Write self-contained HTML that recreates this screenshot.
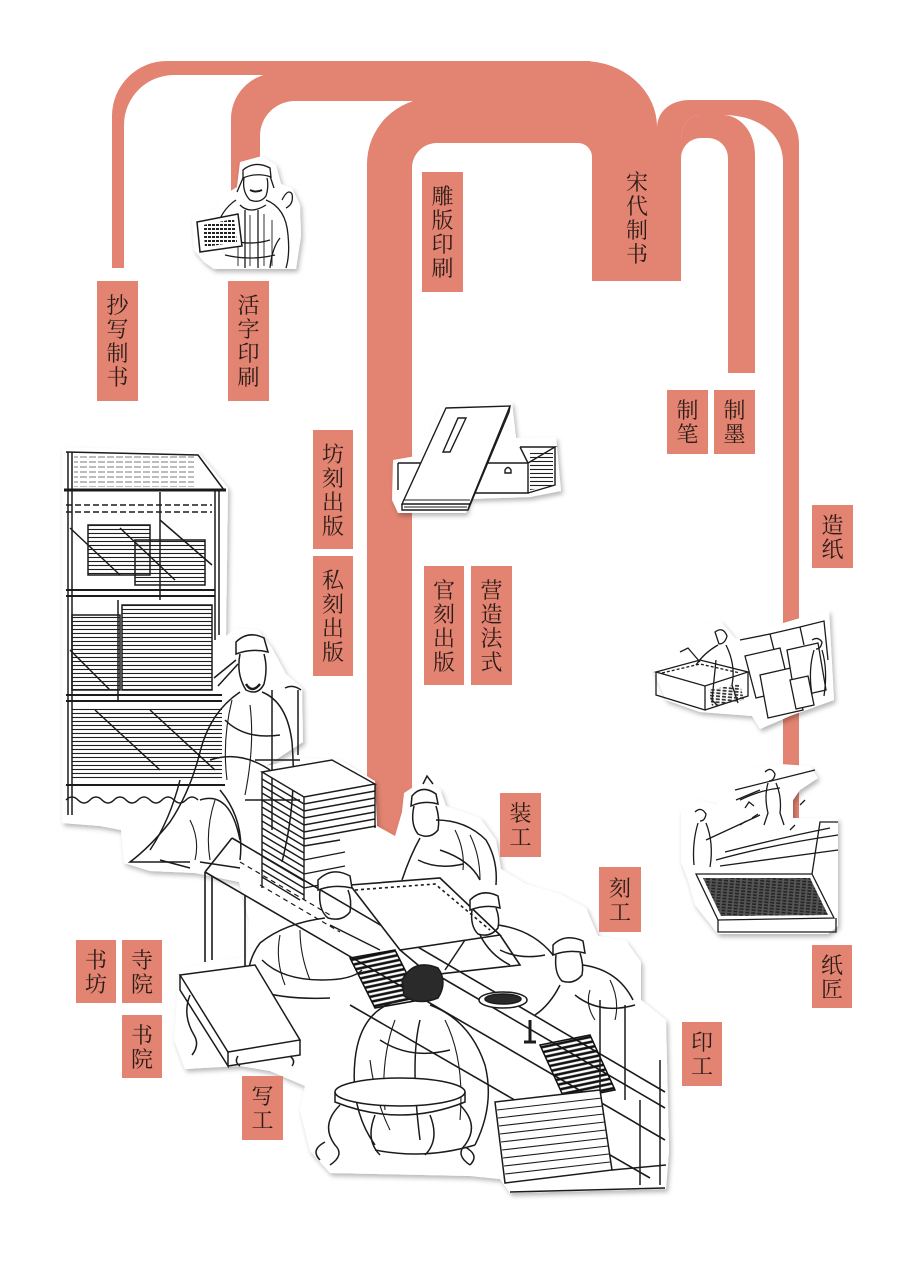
<!DOCTYPE html>
<html><head><meta charset="utf-8">
<style>
html,body{margin:0;padding:0;background:#fff;}
body{width:905px;height:1280px;position:relative;overflow:hidden;}
svg{position:absolute;left:0;top:0;}
.l{position:absolute;background:#E38371;color:#2a1c18;font-family:"Noto Serif CJK SC","Noto Serif CJK JP","Liberation Serif",serif;font-size:22px;line-height:24px;display:flex;align-items:center;justify-content:center;text-align:center;}
.l span{display:block;}
.t{position:absolute;color:#2a1c18;font-family:"Noto Serif CJK SC","Noto Serif CJK JP","Liberation Serif",serif;font-size:22px;line-height:24px;text-align:center;}
</style></head><body>
<svg width="905" height="1280" viewBox="0 0 905 1280">
<defs>
<filter id="sh" x="-10%" y="-10%" width="125%" height="125%"><feDropShadow dx="2" dy="3" stdDeviation="2.5" flood-color="#000" flood-opacity="0.28"/></filter>
<pattern id="hl" width="8" height="4" patternUnits="userSpaceOnUse"><path d="M0,1.5 H8" stroke="#1e1e1e" stroke-width="1.1"/></pattern>
<pattern id="hl2" width="9" height="5" patternUnits="userSpaceOnUse"><path d="M0,2 H9" stroke="#1e1e1e" stroke-width="1.1" stroke-dasharray="6 2"/></pattern>
<pattern id="st" width="6" height="5" patternUnits="userSpaceOnUse" patternTransform="rotate(-12)"><path d="M0,2 H6" stroke="#111" stroke-width="2.6"/></pattern>
<pattern id="dk" width="6" height="3" patternUnits="userSpaceOnUse" patternTransform="rotate(5)"><path d="M0,1 H4" stroke="#222" stroke-width="1.6"/></pattern>
<pattern id="tx" width="4" height="4" patternUnits="userSpaceOnUse"><rect x="0" y="0" width="3" height="2" fill="#222"/></pattern>
</defs>

<!-- bands -->
<g fill="#E38371">
<path d="M112,268 V116 A55,55 0 0 1 167,61 H590 V75 H174 A50,50 0 0 0 124,125 V268 Z"/>
<path d="M231,210 V120 A46,46 0 0 1 277,73 H590 V101 H295 A35,35 0 0 0 260,136 V210 Z"/>
<path d="M367,845 V165 A66,66 0 0 1 433,98 H590 V143 H437 A25,25 0 0 0 412,168 V845 Z"/>
<path d="M560,61 H583 A74,66 0 0 1 657,127 V281 H592 V157 A14,14 0 0 0 578,143 H560 Z"/>
<path d="M657,281 V128 C657,112 670,100 690,100 H755 A44,44 0 0 1 799,144 V820 H783 V162 C783,135 760,115 723,115 H700 C690,115 681,125 681,140 V281 Z"/>
<path d="M681,281 V158 A20,20 0 0 1 701,138 H708 A20,20 0 0 1 728,158 V373 H755 V155 C755,132 740,115 723,115 H700 C690,115 681,125 681,140 Z"/>
</g>

<!-- portrait -->
<path filter="url(#sh)" fill="#fff" d="M240,162 L262,156 L276,165 L281,184 L292,188 L300,205 L301,236 L296,269 L214,269 L204,262 L194,250 L192,217 L214,211 L224,195 L237,187 Z"/>
<g stroke="#1b1b1b" fill="none" stroke-width="1.3">
<path d="M243,170 q12,-10 27,-2 l1,9 q-14,-5 -28,1 z"/>
<path d="M244,178 q-2,14 6,22 q10,4 16,-4 q3,-10 1,-18"/>
<path d="M250,190 q6,3 12,0" stroke-width="2"/>
<path d="M243,178 l-6,14 M270,176 l4,12"/>
<path d="M236,200 q-15,10 -20,30 M266,200 q20,8 22,35 q2,20 -2,33"/>
<path d="M240,205 q10,10 26,0 M245,210 V268 M258,210 V268 M230,240 q20,6 40,0 M225,255 q25,6 50,0"/>
<path d="M250,215 V266 M264,214 V266 M272,220 V266 M238,222 V266" stroke-width="0.9"/>
<path d="M282,200 q6,-12 10,-6 q2,10 -6,14"/>
<path d="M270,268 q2,-20 10,-30"/>
</g>
<path d="M197,222 L238,214 L242,246 L200,252 Z" fill="#fff" stroke="#1b1b1b" stroke-width="1.5"/>
<path d="M203,225 L234,219 L237,242 L205,247 Z" fill="url(#tx)"/>

<!-- book image -->
<path filter="url(#sh)" fill="#fff" d="M393,460 L422,455 L440,407 L512,402 L516,438 L556,437 L561,491 L530,497 L470,499 L466,513 L398,513 L392,500 Z"/>
<g stroke="#1b1b1b" fill="none" stroke-width="1.4">
<path d="M398,463 H528 V493 H466 M398,463 V490"/>
<path d="M520,447 L528,463 M520,447 H555 L528,463 M555,447 V485 L528,493"/>
<path d="M446,408 L510,406 L470,504 L402,504 Z" fill="#fff"/>
<path d="M402,504 V510 H468 L470,504 M468,510 L509,412 L510,406"/>
<path d="M458,418 L466,418 L450,452 L443,452 Z"/>
<path d="M403,500 H470 M404,507 H467" stroke-width="1"/>
<path d="M505,470 q3,-5 6,0 v3 h-6 z"/>
</g>
<path d="M530,452 L553,451 L553,486 L530,490 Z" fill="url(#hl)"/>

<!-- paper image 1 -->
<path filter="url(#sh)" fill="#fff" d="M652,668 L668,656 L690,645 L705,625 L720,621 L735,638 L750,638 L770,627 L800,618 L829,610 L834,700 L790,716 L760,729 L752,716 L700,712 L666,700 Z"/>
<g stroke="#1b1b1b" fill="none" stroke-width="1.3">
<path d="M656,672 L700,660 L748,672 L705,686 Z"/>
<path d="M656,672 V695 L705,710 V686 M705,710 L748,696 V672"/>
<path d="M662,673 L700,664 L740,673" stroke-dasharray="3 2"/>
<path d="M740,640 L770,634 L774,650 M770,634 L800,627 L804,645 M800,627 L824,621 L828,660"/>
<path d="M745,656 L780,648 L790,690 L756,698 Z"/>
<path d="M760,675 L795,667 L803,710 L768,718 Z" fill="#fff"/>
<path d="M787,650 L818,643 L826,690 L795,697 Z" fill="#fff"/>
<path d="M790,680 L808,676 L814,705 L796,709 Z" fill="#fff"/>
<path d="M715,632 q8,-6 12,4 q-2,8 -8,8 z"/>
<path d="M718,645 q-14,8 -22,20 M726,645 q10,20 6,40 l6,18 M716,660 l-4,40 l6,6 M700,662 l-12,-14 L680,652"/>
<path d="M812,640 q6,-4 10,2 q-1,7 -6,7 M814,650 q-6,20 -2,45 M822,650 q6,20 2,46"/>
</g>
<path d="M708,690 L740,684 L744,700 L712,706 Z" fill="url(#dk)"/>

<!-- paper image 2 -->
<path filter="url(#sh)" fill="#fff" d="M681,810 L700,800 L716,805 L735,782 L752,768 L780,764 L810,766 L818,778 L800,790 L793,800 L793,818 L838,818 L838,926 L828,934 L718,934 L695,905 L688,880 L681,862 Z"/>
<g stroke="#1b1b1b" fill="none" stroke-width="1.3">
<path d="M735,790 L815,770 M740,800 q20,-10 40,-12"/>
<path d="M765,772 q6,-6 10,2 q-1,7 -6,7 M768,783 q-4,14 0,30 l-4,12 M776,783 q6,14 4,30 l4,12 M760,790 L736,800"/>
<path d="M695,812 q6,-6 11,2 q-1,7 -6,7 M698,823 q-6,20 -4,42 M706,823 q8,20 4,44 M706,840 L760,815"/>
<path d="M716,860 Q770,845 838,835 M720,866 Q780,858 838,850 M725,852 Q780,838 830,828"/>
<path d="M696,874 L812,874 L834,918 L718,920 Z"/>
<path d="M718,920 V932 H836 V918 M812,874 L820,822 L838,822"/>
<path d="M745,808 l4,-6 l5,4 M752,818 l6,-4 M790,830 l5,-5 M740,825 l6,-4 M800,805 l5,-5"/>
</g>
<path d="M703,878 L810,878 L828,915 L721,916 Z" fill="#555"/>
<path d="M703,878 L810,878 L828,915 L721,916 Z" fill="url(#dk)"/>

<!-- big illustration -->
<path filter="url(#sh)" fill="#fff" d="M62,447 L198,452 L228,488 L226,636 L236,628 L258,630 L272,648 L286,674 L302,688 L303,742 L266,766 L305,758 L340,760 L375,781 L377,826 L395,836 L402,812 L404,793 L421,782 L440,789 L446,806 L480,818 L496,840 L501,869 L526,884 L560,894 L586,908 L598,936 L626,941 L641,962 L641,1000 L666,1020 L669,1150 L666,1189 L510,1193 L500,1179 L470,1176 L330,1173 L310,1151 L300,1110 L305,1086 L270,1071 L240,1066 L185,1069 L174,1040 L179,970 L220,960 L247,957 L249,920 L239,882 L195,873 L150,871 L124,863 L121,830 L100,826 L62,823 Z"/>
<!-- shelf -->
<g stroke="#1b1b1b" fill="none" stroke-width="1.5">
<path d="M66,452 L198,455 L224,490"/>
<path d="M64,490 H226" stroke-width="3"/>
<path d="M68,452 V815 M72,452 V815" />
<path d="M215,490 V640 M219,490 V635"/>
<path d="M160,492 V600 M118,600 V700"/>
<path d="M66,505 H212 M66,512 H212" stroke-dasharray="6 3"/>
<path d="M70,528 L120,575 M120,528 L175,580 M160,520 L212,565"/>
<path d="M66,590 H215 M66,596 H215" stroke-width="2"/>
<path d="M66,695 H222 M66,701 H222" stroke-width="2"/>
<path d="M66,785 H225" stroke-width="2"/>
<path d="M66,800 q6,-6 12,0 t12,0 t12,0 t12,0 t12,0 t12,0 t12,0 t12,0 t12,0 t12,0 t12,0"/>
<rect x="88" y="525" width="62" height="50"/>
<rect x="135" y="540" width="70" height="45"/>
<rect x="72" y="615" width="48" height="75"/>
<rect x="122" y="605" width="90" height="85"/>
<path d="M70,650 L110,690 M95,710 L160,770 M150,710 L215,770"/>
</g>
<rect x="88" y="525" width="62" height="50" fill="url(#hl)"/>
<rect x="135" y="540" width="70" height="45" fill="url(#hl)"/>
<rect x="72" y="615" width="48" height="75" fill="url(#hl)"/>
<rect x="122" y="605" width="90" height="85" fill="url(#hl)"/>
<rect x="72" y="708" width="150" height="72" fill="url(#hl)"/>
<rect x="74" y="455" width="120" height="32" fill="url(#hl2)" opacity="0.6"/>
<!-- scholar -->
<g stroke="#1b1b1b" fill="none" stroke-width="1.5">
<path d="M236,642 q12,-12 28,-4 l4,14 q-16,-4 -32,2 z" fill="#fff"/>
<path d="M240,654 q-4,20 6,36 q12,6 18,-6 q4,-16 0,-30"/>
<path d="M236,660 l-22,18 M238,664 l-20,22"/>
<path d="M246,684 q6,10 14,0" stroke-width="2.4"/>
<path d="M240,692 q-30,20 -40,60 q-10,40 -30,70 q-20,25 -40,40 h60"/>
<path d="M262,692 q25,10 30,50 q5,60 -10,120"/>
<path d="M225,720 q20,20 55,15 M210,760 q30,-10 60,10 M200,800 q30,-10 40,40 M240,860 q5,-40 -20,-70 M180,780 q-10,40 -30,70"/>
<path d="M232,700 q-10,40 -5,80 M250,705 q5,40 -5,90 M190,820 q10,20 5,40 M215,800 q-10,30 -5,60" stroke-width="1.1"/>
<path d="M272,690 V830 M298,690 V755 M255,760 H300 M245,800 H300 M285,688 q8,-4 16,2"/>
<path d="M160,860 l30,8 M200,862 l40,6"/>
</g>
<!-- book stack -->
<g stroke="#1b1b1b" fill="none" stroke-width="1.4">
<path d="M262,772 L332,760 L375,784 L304,797 Z" fill="#fff"/>
<path d="M262,772 V888 M304,797 V900 M375,784 V828"/>
<path d="M262,779 L304,804 L375,791 M262,786 L304,811 L375,798 M262,793 L304,818 L375,805 M262,800 L304,825 L375,812 M262,807 L304,832 L375,819 M262,814 L304,839 L376,826 M262,821 L304,846 M262,828 L304,853 M262,835 L304,860 M262,842 L304,867 M262,849 L304,874 M262,856 L304,881 M262,863 L304,888 M262,870 L304,895 M262,877 L300,900"/>
<path d="M304,846 L340,840 M304,860 L345,852 M304,874 L345,866 M304,888 L345,880"/>
</g>
<!-- tables -->
<g stroke="#1b1b1b" fill="none" stroke-width="1.6">
<path d="M232,838 L665,1092"/>
<path d="M205,872 L665,1140"/>
<path d="M205,872 L232,838"/>
<path d="M205,872 V962 M212,876 V960 M245,895 V975"/>
<path d="M420,965 L665,1108"/>
<path d="M350,1005 L650,1178"/>
<path d="M350,885 L440,878 L500,935 L400,950 Z" fill="#fff"/>
<path d="M355,890 L435,884 L490,930" stroke-dasharray="3 3"/>
<path d="M500,935 L520,965 L430,975 L400,950"/>
<path d="M240,862 L330,915 M260,885 L340,932" stroke-dasharray="5 4" stroke-width="1.2"/>
</g>
<path d="M350,958 L395,950 L420,1000 L375,1008 Z" fill="url(#st)" stroke="#111" stroke-width="1.5"/>
<path d="M540,1045 L590,1035 L615,1090 L565,1100 Z" fill="url(#st)" stroke="#111" stroke-width="1.5"/>
<!-- figures -->
<g stroke="#1b1b1b" fill="none" stroke-width="1.5">
<path d="M412,796 q10,-12 24,-2 l2,10 q-14,-4 -27,2 z" fill="#fff"/>
<path d="M414,806 q-4,18 4,28 q12,6 20,-4 q2,-12 -2,-24"/>
<path d="M436,820 q30,0 50,20 q12,20 10,45 M420,838 q-10,18 -18,42 M440,850 q30,10 40,30 M418,860 q20,10 45,4"/>
<path d="M455,830 q10,20 8,40 M470,835 q10,20 10,45" stroke-width="1.1"/>
<path d="M423,784 l4,-8 l6,8"/>
<path d="M318,880 q14,-14 32,-4 l2,12 q-18,-4 -34,2 z" fill="#fff"/>
<path d="M320,890 q-2,20 8,28 q14,4 22,-6 q2,-12 -2,-22"/>
<path d="M325,918 q-40,5 -65,25 q-15,20 -12,50 M330,925 q30,15 50,25 M262,960 q20,20 60,20 q30,0 40,-10 M255,990 q30,10 75,8"/>
<path d="M280,935 q-5,25 5,50 M300,930 q0,25 10,50" stroke-width="1.1"/>
<path d="M470,900 q12,-12 28,-4 l2,12 q-14,-4 -30,2 z" fill="#fff"/>
<path d="M472,910 q-2,16 6,24 q12,4 20,-6 q2,-10 -2,-20"/>
<path d="M498,925 q35,5 55,30 M480,935 q10,20 30,30 M465,940 l-20,30 M500,950 q20,10 45,5"/>
<path d="M553,945 q12,-12 30,-4 l2,12 q-16,-4 -32,2 z" fill="#fff"/>
<path d="M556,955 q-2,18 6,26 q12,4 20,-6 q2,-10 -2,-22"/>
<path d="M583,965 q35,5 50,35 M560,985 q-10,20 -25,30 M575,995 q25,20 60,10 M600,1000 V1090 M625,1005 V1100"/>
<path d="M610,980 q10,20 5,40 M590,990 q-5,15 5,30" stroke-width="1.1"/>
<path d="M402,980 q12,-22 36,-12 q10,14 0,30 q-20,8 -34,-2 z" fill="#2a2a2a"/>
<path d="M400,1000 q-40,10 -45,60 q-5,50 20,85 M430,1005 q40,15 55,60 q10,40 -10,80 M375,1150 q50,10 100,-5 M380,1040 q30,20 70,10 M365,1090 q40,10 90,0 M420,1020 q-10,40 0,120"/>
<path d="M395,1020 q-15,40 -10,90 M445,1020 q20,40 15,100 M370,1060 q5,40 20,70" stroke-width="1.1"/>
<ellipse cx="503" cy="1000" rx="24" ry="8" fill="#fff"/>
<ellipse cx="503" cy="999" rx="18" ry="5" fill="#2a2a2a"/>
<path d="M530,1020 v22 M524,1042 h12" stroke-width="3"/>
<path d="M180,975 L255,965 L300,1040 L228,1052 Z" fill="#fff"/>
<path d="M180,975 V990 L228,1066 V1052 M228,1066 L300,1055 V1040"/>
<path d="M190,995 q-8,20 4,40 q6,10 -2,20 M240,1066 q-6,-4 -2,-10 M290,1056 q6,5 2,10"/>
<ellipse cx="400" cy="1092" rx="65" ry="14" fill="#fff"/>
<path d="M335,1092 v10 q65,26 130,0 v-10"/>
<path d="M340,1105 q-20,20 -5,40 q10,10 -5,20 M375,1115 q-10,25 5,40 M430,1115 q10,25 -5,40 M460,1105 q20,20 5,40 q-10,10 5,20 M320,1160 q-10,-10 5,-18 M470,1165 q10,-10 -5,-18"/>
<path d="M495,1102 L600,1090 L612,1170 L505,1183 Z" fill="#fff"/>
<path d="M497,1110 L602,1098 M498,1118 L603,1106 M499,1126 L604,1114 M500,1134 L605,1122 M501,1142 L606,1130 M502,1150 L607,1138 M503,1158 L608,1146 M504,1166 L609,1154 M505,1174 L610,1162" stroke-width="1.1"/>
<path d="M612,1170 L666,1165 M640,1100 V1185 M660,1060 V1185"/>
<path d="M510,1192 L665,1188"/>
</g>
</svg>

<div class="t" style="left:612px;top:170px;width:50px;">宋<br>代<br>制<br>书</div>

<div class="l" style="left:97px;top:281px;width:41px;height:120px"><span>抄<br>写<br>制<br>书</span></div>
<div class="l" style="left:228px;top:281px;width:41px;height:120px"><span>活<br>字<br>印<br>刷</span></div>
<div class="l" style="left:422px;top:172px;width:41px;height:120px"><span>雕<br>版<br>印<br>刷</span></div>
<div class="l" style="left:313px;top:430px;width:40px;height:119px"><span>坊<br>刻<br>出<br>版</span></div>
<div class="l" style="left:313px;top:556px;width:40px;height:120px"><span>私<br>刻<br>出<br>版</span></div>
<div class="l" style="left:424px;top:566px;width:40px;height:119px"><span>官<br>刻<br>出<br>版</span></div>
<div class="l" style="left:471px;top:566px;width:41px;height:119px"><span>营<br>造<br>法<br>式</span></div>
<div class="l" style="left:667px;top:390px;width:41px;height:64px"><span>制<br>笔</span></div>
<div class="l" style="left:714px;top:390px;width:41px;height:64px"><span>制<br>墨</span></div>
<div class="l" style="left:812px;top:505px;width:41px;height:63px"><span>造<br>纸</span></div>
<div class="l" style="left:812px;top:945px;width:40px;height:63px"><span>纸<br>匠</span></div>
<div class="l" style="left:500px;top:793px;width:41px;height:64px"><span>装<br>工</span></div>
<div class="l" style="left:599px;top:867px;width:42px;height:65px"><span>刻<br>工</span></div>
<div class="l" style="left:682px;top:1022px;width:40px;height:64px"><span>印<br>工</span></div>
<div class="l" style="left:242px;top:1076px;width:41px;height:64px"><span>写<br>工</span></div>
<div class="l" style="left:76px;top:940px;width:40px;height:63px"><span>书<br>坊</span></div>
<div class="l" style="left:122px;top:940px;width:40px;height:63px"><span>寺<br>院</span></div>
<div class="l" style="left:122px;top:1015px;width:40px;height:63px"><span>书<br>院</span></div>
</body></html>
